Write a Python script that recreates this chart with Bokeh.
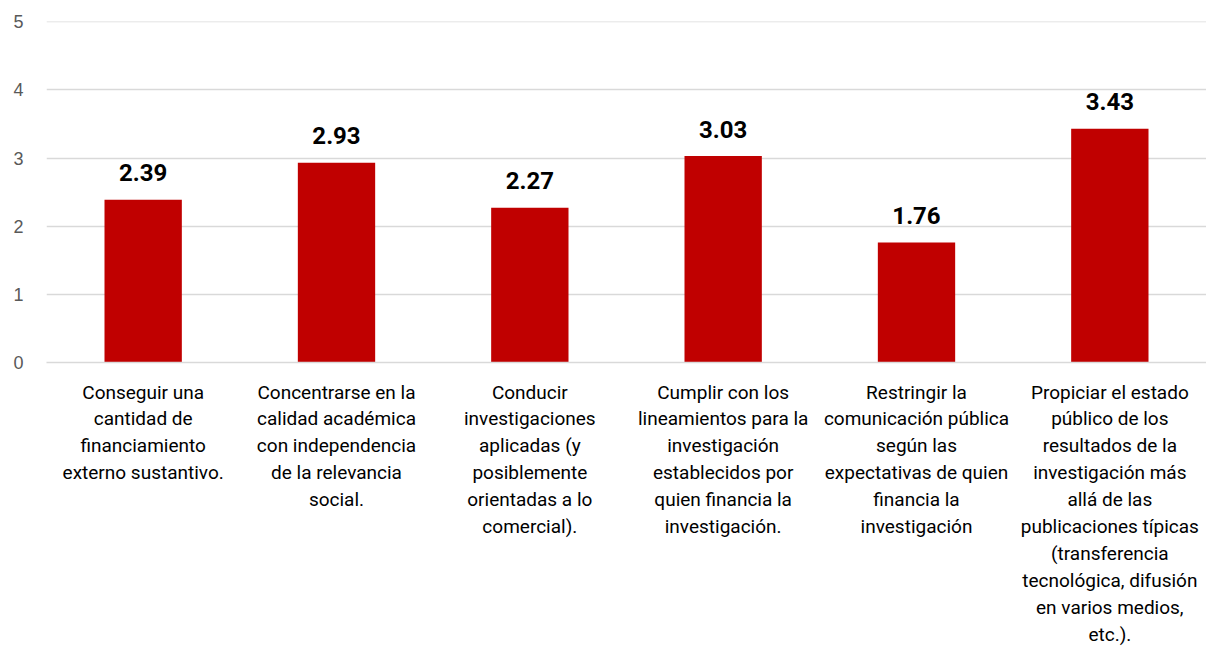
from bokeh.plotting import figure
from bokeh.models import ColumnDataSource, FactorRange, Range1d, FixedTicker
from bokeh.core.properties import value
from bokeh.embed import file_html
from bokeh.resources import INLINE

categories = [
    "Conseguir una\ncantidad de\nfinanciamiento\nexterno sustantivo.",
    "Concentrarse en la\ncalidad académica\ncon independencia\nde la relevancia\nsocial.",
    "Conducir\ninvestigaciones\naplicadas (y\nposiblemente\norientadas a lo\ncomercial).",
    "Cumplir con los\nlineamientos para la\ninvestigación\nestablecidos por\nquien financia la\ninvestigación.",
    "Restringir la\ncomunicación pública\nsegún las\nexpectativas de quien\nfinancia la\ninvestigación",
    "Propiciar el estado\npúblico de los\nresultados de la\ninvestigación más\nallá de las\npublicaciones típicas\n(transferencia\ntecnológica, difusión\nen varios medios,\netc.).",
]
values = [2.39, 2.93, 2.27, 3.03, 1.76, 3.43]
y_ticks = [0, 1, 2, 3, 4, 5]

src = ColumnDataSource(dict(cat=categories, val=values,
                            lab=["%.2f" % v for v in values]))

FONT = "Roboto"

p = figure(x_range=FactorRange(*categories, range_padding=0.0),
           y_range=Range1d(0, 5.005),
           width=1206, height=649, output_backend="svg",
           toolbar_location=None,
           min_border_left=46, min_border_right=0,
           min_border_top=21, min_border_bottom=287)
p.outline_line_color = None

p.vbar(x="cat", top="val", width=0.4, source=src,
       fill_color="#C00000", line_color=None)
p.text(x="cat", y="val", text="lab", source=src, y_offset=-27,
       text_align="center", text_baseline="alphabetic",
       text_font=value(FONT), text_font_style="bold",
       text_font_size="24px", text_color="#000000")

p.xgrid.grid_line_color = None
p.ygrid.grid_line_color = "#d9d9d9"
p.ygrid.grid_line_width = 1.5
p.yaxis.ticker = FixedTicker(ticks=y_ticks)
p.yaxis.axis_line_color = None
p.yaxis.major_tick_line_color = None
p.yaxis.minor_tick_line_color = None
p.yaxis.major_label_text_font = "Liberation Sans"
p.yaxis.major_label_text_font_size = "18px"
p.yaxis.major_label_text_color = "#595959"
p.yaxis.major_label_standoff = 17

p.xaxis.axis_line_color = "#d9d9d9"
p.xaxis.axis_line_width = 1.5
p.xaxis.major_tick_line_color = None
p.xaxis.minor_tick_line_color = None
p.xaxis.major_label_text_font = FONT
p.xaxis.major_label_text_font_size = "19px"
p.xaxis.major_label_text_color = "#000000"
p.xaxis.major_label_text_line_height = 1.17
p.xaxis.major_label_standoff = 12
p.xaxis.major_label_orientation = "horizontal"

open("out.html", "w").write(file_html(p, INLINE))
